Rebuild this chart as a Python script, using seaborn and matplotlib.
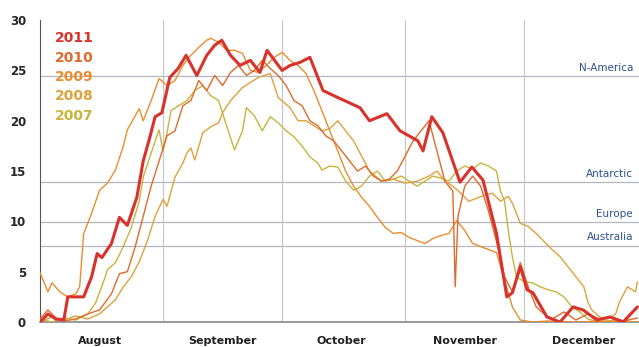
import pandas as pd
import matplotlib
matplotlib.use('Agg')
import matplotlib.pyplot as plt
import matplotlib.dates as mdates
import matplotlib.transforms as mtransforms
import seaborn as sns

# days counted from 1 August, values in million km2
days_2011 = [0, 2, 4, 6, 7, 11, 13, 14.4, 15.6, 18, 20, 22, 24.4, 26, 27.7, 29, 30.7, 32.7, 34.8, 36.8,
             39.5, 42, 44, 45.8, 48, 50.4, 53, 55.4, 57.2, 61, 63, 65.5, 68, 71.3, 75.6, 80.6, 83, 87.4,
             90.7, 95.2, 96.5, 98.7, 101.5, 105.8, 108.8, 111.6, 115, 117.6, 119, 121, 122.7, 124.2,
             127.7, 131, 134.3, 136.8, 140.3, 143.6, 146.9, 150.5]
vals_2011 = [0.0, 0.8, 0.3, 0.2, 2.5, 2.5, 4.5, 6.8, 6.4, 7.8, 10.4, 9.6, 12.4, 16.0, 18.4, 20.4, 20.8,
             24.3, 25.2, 26.5, 24.5, 26.5, 27.5, 28.0, 26.5, 25.5, 26.0, 24.8, 27.0, 25.0, 25.5, 25.8,
             26.3, 23.0, 22.2, 21.3, 20.0, 20.7, 19.0, 18.0, 17.0, 20.4, 18.8, 13.9, 15.4, 14.1, 8.8,
             2.5, 2.9, 5.5, 3.2, 2.9, 0.5, 0.0, 1.5, 1.2, 0.2, 0.5, 0.0, 1.5]

days_2010 = [0, 2, 4, 6, 9, 12, 15, 18, 20, 22, 24, 26, 28, 30, 32, 34, 36, 38, 40, 42, 44, 46, 48, 50,
             52, 54, 56, 58, 60, 62, 64, 66, 68, 70, 72, 74, 76, 78, 80, 82, 84, 86, 88, 90, 92, 94, 96,
             98, 100, 102, 104, 104.6, 105.3, 107, 109, 111, 113, 115, 117, 119, 121, 123, 125, 127,
             129, 132, 135, 138, 141, 144, 147, 150.5]
vals_2010 = [0.3, 1.2, 0.4, 0.1, 0.3, 0.8, 1.2, 2.8, 4.8, 5.0, 7.5, 10.5, 13.5, 16.0, 18.5, 19.0, 21.5,
             22.0, 24.0, 23.0, 24.5, 23.5, 24.8, 25.5, 24.5, 25.0, 26.0, 25.2, 24.5, 23.5, 22.0, 21.5,
             20.0, 19.5, 18.5, 18.0, 17.0, 16.0, 15.0, 15.5, 14.5, 14.0, 14.2, 15.0, 16.5, 18.0, 19.0,
             20.0, 17.0, 14.0, 13.0, 3.5, 10.5, 13.5, 14.5, 13.5, 11.0, 8.0, 4.5, 3.0, 5.9, 3.5, 1.5,
             0.8, 0.3, 1.0, 0.2, 0.8, 0.3, 0.5, 0.1, 0.4]

days_2009 = [0, 2, 3, 5, 7, 9, 10, 11, 13, 15, 17, 19, 21, 22, 24, 25, 26, 28, 30, 32, 34, 36, 38, 40,
             42, 43, 45, 47, 49, 51, 53, 55, 57, 59, 61, 63, 65, 67, 69, 71, 73, 75, 77, 79, 81, 83, 85,
             87, 89, 91, 93, 95, 97, 99, 101, 103, 105, 107, 109, 111, 113, 115, 117, 119, 121, 124,
             128, 135, 142, 150.5]
vals_2009 = [4.9, 3.0, 3.9, 3.0, 2.5, 2.8, 3.5, 8.8, 10.8, 13.1, 13.8, 15.1, 17.5, 19.1, 20.5, 21.2,
             20.0, 22.0, 24.2, 23.5, 24.0, 25.5, 26.5, 27.3, 28.0, 28.2, 27.8, 27.0, 27.0, 26.7, 25.0,
             24.8, 25.5, 26.3, 26.8, 26.0, 25.5, 24.7, 23.0, 21.0, 19.0, 17.0, 15.0, 13.5, 12.4, 11.5,
             10.4, 9.4, 8.8, 8.9, 8.4, 8.1, 7.8, 8.3, 8.6, 8.8, 10.1, 9.1, 7.8, 7.5, 7.2, 6.9, 4.2,
             1.5, 0.2, 0.0, 0.1, 0.0, 0.1, 0.0]

days_2008 = [0, 3, 6, 9, 12, 15, 17, 19, 21, 23, 25, 27, 29, 31, 32, 34, 36, 37, 38, 39, 41, 43, 45,
             46, 48, 51, 55, 58, 60, 63, 65, 67, 69, 71, 73, 75, 77, 79, 81, 83, 86, 89, 92, 95, 98,
             100, 102, 104, 106, 108, 110, 112, 114, 116, 118, 119, 121, 123, 125, 127, 129, 131, 133,
             135, 137, 138, 139, 141, 143, 145, 146, 148, 150, 150.5]
vals_2008 = [0.0, 0.5, 0.2, 0.6, 0.3, 0.8, 1.5, 2.2, 3.5, 4.5, 6.0, 8.0, 10.5, 12.2, 11.5, 14.4, 15.8,
             16.8, 17.3, 16.1, 18.8, 19.4, 19.8, 20.8, 22.0, 23.3, 24.3, 24.7, 22.3, 21.3, 20.0, 20.0,
             19.5, 19.0, 19.2, 20.0, 19.0, 18.0, 16.5, 15.0, 14.0, 14.2, 13.8, 14.0, 14.5, 15.0, 14.0,
             13.5, 12.8, 12.0, 12.3, 12.6, 12.8, 12.0, 12.5, 11.8, 9.8, 9.5, 8.8, 8.0, 7.2, 6.5, 5.5,
             4.5, 3.5, 2.0, 1.2, 0.5, 0.3, 0.8, 2.0, 3.5, 3.0, 4.0]

days_2007 = [0, 3, 6, 9, 12, 14, 16, 17, 19, 21, 23, 25, 26, 28, 30, 31, 32, 33, 35, 37, 39, 41, 43,
             45, 47, 49, 51, 52, 54, 56, 58, 60, 62, 64, 66, 68, 70, 71, 73, 75, 77, 79, 81, 83, 85,
             87, 89, 91, 93, 95, 97, 99, 101, 103, 105, 107, 109, 111, 113, 115, 116, 117, 118, 119,
             120, 122, 124, 126, 128, 130, 132, 134, 136, 138, 141, 145, 150.5]
vals_2007 = [0.3, 0.0, 0.4, 0.2, 0.8, 1.9, 4.0, 5.2, 5.9, 7.5, 9.4, 12.0, 14.4, 16.8, 19.1, 17.0, 18.8,
             21.0, 21.5, 22.0, 23.0, 23.5, 22.5, 22.0, 19.5, 17.1, 19.0, 21.3, 20.5, 19.0, 20.4, 19.8,
             19.0, 18.4, 17.5, 16.4, 15.8, 15.1, 15.5, 15.4, 14.0, 13.1, 13.5, 14.5, 15.0, 14.0, 14.2,
             14.5, 14.0, 13.5, 14.0, 14.5, 14.3, 14.0, 15.0, 15.5, 15.2, 15.8, 15.5, 15.0, 13.0, 12.1,
             9.0, 6.5, 4.5, 4.0, 3.9, 3.5, 3.2, 3.0, 2.5, 1.5, 1.0, 0.3, 0.0, 0.2, 0.0]

years = ['2011', '2010', '2009', '2008', '2007']
year_colors = ['#d9322b', '#df6a2c', '#e88d2f', '#dea23a', '#c8b43c']

region_names = ['N-America', 'Antarctic', 'Europe', 'Australia']
region_areas = [24.4, 13.9, 9.9, 7.6]

months = ['August', 'September', 'October', 'November', 'December']

base = pd.Timestamp('2011-08-01')
series = {
    '2011': (days_2011, vals_2011),
    '2010': (days_2010, vals_2010),
    '2009': (days_2009, vals_2009),
    '2008': (days_2008, vals_2008),
    '2007': (days_2007, vals_2007),
}

sns.set_style('white')
plt.rcParams['font.family'] = ['DejaVu Sans']

fig = plt.figure(figsize=(6.39, 3.47), dpi=100)
ax = fig.add_axes([0.0626, 0.072, 0.9374, 0.870])

# region reference lines
for name, area in zip(region_names, region_areas):
    ax.axhline(area, color='#b4b6c0', lw=0.9, zorder=1)
    ax.text(0.99, area + 0.35, name, transform=ax.get_yaxis_transform(),
            ha='right', va='bottom', fontsize=7.5, color='#2a5192')

# month gridlines
for m in range(9, 13):
    ax.axvline(pd.Timestamp(2011, m, 1), color='#c8c8c8', lw=0.9, zorder=1)

# draw older years first so 2011 sits on top
for yr, col in reversed(list(zip(years, year_colors))):
    d, v = series[yr]
    df = pd.DataFrame({'date': base + pd.to_timedelta(d, unit='D'), 'area': v})
    sns.lineplot(data=df, x='date', y='area', ax=ax, color=col,
                 lw=2.2 if yr == '2011' else 1.0, zorder=4 if yr == '2011' else 3)

ax.set_xlim(base, base + pd.Timedelta(days=150.9))
ax.set_ylim(0, 30)
ax.set_yticks(range(0, 31, 5))
ax.set_xlabel('')
ax.set_ylabel('')

ax.xaxis.set_major_locator(mdates.MonthLocator())
ax.xaxis.set_minor_locator(mdates.DayLocator(bymonthday=[11, 21]))
ax.xaxis.set_major_formatter(plt.NullFormatter())
ax.tick_params(axis='x', which='major', length=5, color='#777777', direction='out')
ax.tick_params(axis='x', which='minor', length=3, color='#777777', direction='out')
ax.tick_params(axis='y', length=4, color='#555555', labelsize=8.5, pad=6)
for lab in ax.get_yticklabels():
    lab.set_fontweight('bold')

trans = mtransforms.blended_transform_factory(ax.transData, ax.transAxes)
for i, mname in enumerate(months):
    ax.text(pd.Timestamp(2011, 8 + i, 16), -0.045, mname, transform=trans,
            ha='center', va='top', fontsize=8, fontweight='bold', color='#222222')

for i, (yr, col) in enumerate(zip(years, year_colors)):
    ax.text(0.025, 0.94 - i * 0.064, yr, transform=ax.transAxes, color=col,
            fontsize=10, fontweight='bold', va='center')

for side in ['top', 'right']:
    ax.spines[side].set_visible(False)
ax.spines['left'].set_color('#555555')
ax.spines['bottom'].set_color('#888888')
ax.spines['bottom'].set_linewidth(1.2)

fig.savefig('out.png', dpi=100)
